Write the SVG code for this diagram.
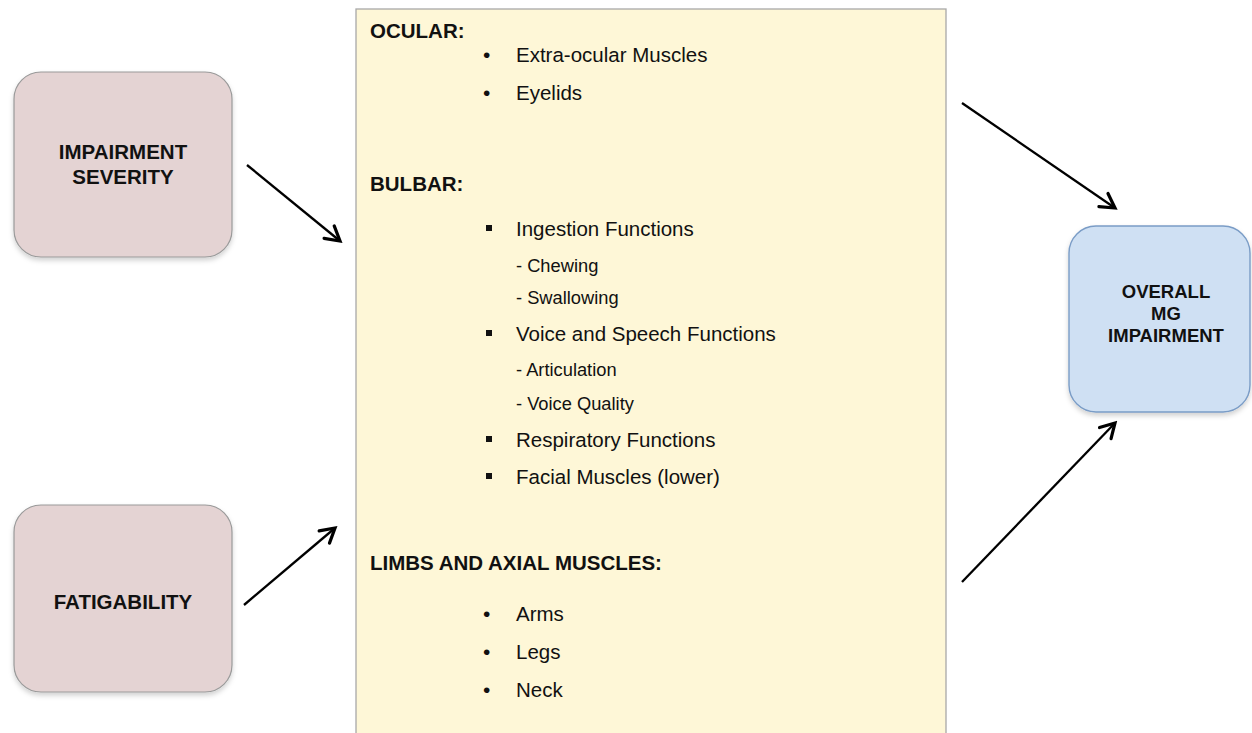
<svg xmlns="http://www.w3.org/2000/svg" width="1252" height="733" viewBox="0 0 1252 733">
<defs>
<style>
.node-red{fill:#e4d3d3;stroke:#9a9a9a;stroke-width:1.2}
.node-blue{fill:#cfe0f3;stroke:#7a9cc6;stroke-width:1.4}
.panel{fill:#fef7d7;stroke:#a8a8a8;stroke-width:1.3}
.lbl{font-family:"Liberation Sans",Arial,sans-serif;font-weight:bold;fill:#111;text-anchor:middle}
.hd{font-family:"Liberation Sans",Arial,sans-serif;font-weight:bold;font-size:20.5px;fill:#111}
.it{font-family:"Liberation Sans",Arial,sans-serif;font-size:20.5px;fill:#111}
.sub{font-family:"Liberation Sans",Arial,sans-serif;font-size:18.3px;fill:#111}
.bul{font-family:"Liberation Sans","DejaVu Sans",sans-serif;font-size:21px;fill:#111}
.sq{fill:#111}
.conn{stroke:#000;stroke-width:2.3;fill:none;marker-end:url(#ah)}
</style>
<marker id="ah" viewBox="0 0 20 20" refX="17" refY="10" markerWidth="20" markerHeight="20" markerUnits="userSpaceOnUse" orient="auto">
<path d="M3,2 L17,10 L3,18" fill="none" stroke="#000" stroke-width="3.2" stroke-linecap="round" stroke-linejoin="miter"/>
</marker>
<filter id="sh" x="-10%" y="-10%" width="120%" height="125%">
<feDropShadow dx="0" dy="3" stdDeviation="2.5" flood-color="#000" flood-opacity="0.18"/>
</filter>
</defs>
<rect width="1252" height="733" fill="#fff"/>

<g id="panel">
<rect class="panel" x="356" y="9" width="590" height="740"/>
<text class="hd" x="370" y="38">OCULAR:</text>
<text class="bul" x="483" y="62">•</text>
<text class="it" x="516" y="62">Extra-ocular Muscles</text>
<text class="bul" x="483" y="100">•</text>
<text class="it" x="516" y="100">Eyelids</text>
<text class="hd" x="370" y="191">BULBAR:</text>
<rect class="sq" x="486" y="225" width="6" height="6"/>
<text class="it" x="516" y="236">Ingestion Functions</text>
<text class="sub" x="516" y="272">- Chewing</text>
<text class="sub" x="516" y="304">- Swallowing</text>
<rect class="sq" x="486" y="330" width="6" height="6"/>
<text class="it" x="516" y="341">Voice and Speech Functions</text>
<text class="sub" x="516" y="376">- Articulation</text>
<text class="sub" x="516" y="410">- Voice Quality</text>
<rect class="sq" x="486" y="436" width="6" height="6"/>
<text class="it" x="516" y="447">Respiratory Functions</text>
<rect class="sq" x="486" y="473" width="6" height="6"/>
<text class="it" x="516" y="484">Facial Muscles (lower)</text>
<text class="hd" x="370" y="570">LIMBS AND AXIAL MUSCLES:</text>
<text class="bul" x="483" y="621">•</text>
<text class="it" x="516" y="621">Arms</text>
<text class="bul" x="483" y="659">•</text>
<text class="it" x="516" y="659">Legs</text>
<text class="bul" x="483" y="697">•</text>
<text class="it" x="516" y="697">Neck</text>
</g>

<g id="impairment-severity">
<rect class="node-red" x="14" y="72" width="218" height="185" rx="27" filter="url(#sh)"/>
<text class="lbl" x="123" y="159" font-size="20.5">IMPAIRMENT</text>
<text class="lbl" x="123" y="184" font-size="20.5">SEVERITY</text>
</g>

<g id="fatigability">
<rect class="node-red" x="14" y="505" width="218" height="187" rx="27" filter="url(#sh)"/>
<text class="lbl" x="123" y="609" font-size="20.5">FATIGABILITY</text>
</g>

<g id="overall-mg-impairment">
<rect class="node-blue" x="1069" y="226" width="181" height="186" rx="27" filter="url(#sh)"/>
<text class="lbl" x="1166" y="298" font-size="18.5">OVERALL</text>
<text class="lbl" x="1166" y="320" font-size="18.5">MG</text>
<text class="lbl" x="1166" y="342" font-size="18.5">IMPAIRMENT</text>
</g>

<g id="connectors">
<line class="conn" x1="247" y1="165" x2="340" y2="241"/>
<line class="conn" x1="244" y1="605" x2="335" y2="528"/>
<line class="conn" x1="962" y1="103" x2="1115" y2="208"/>
<line class="conn" x1="962" y1="582" x2="1115" y2="423"/>
</g>
</svg>
